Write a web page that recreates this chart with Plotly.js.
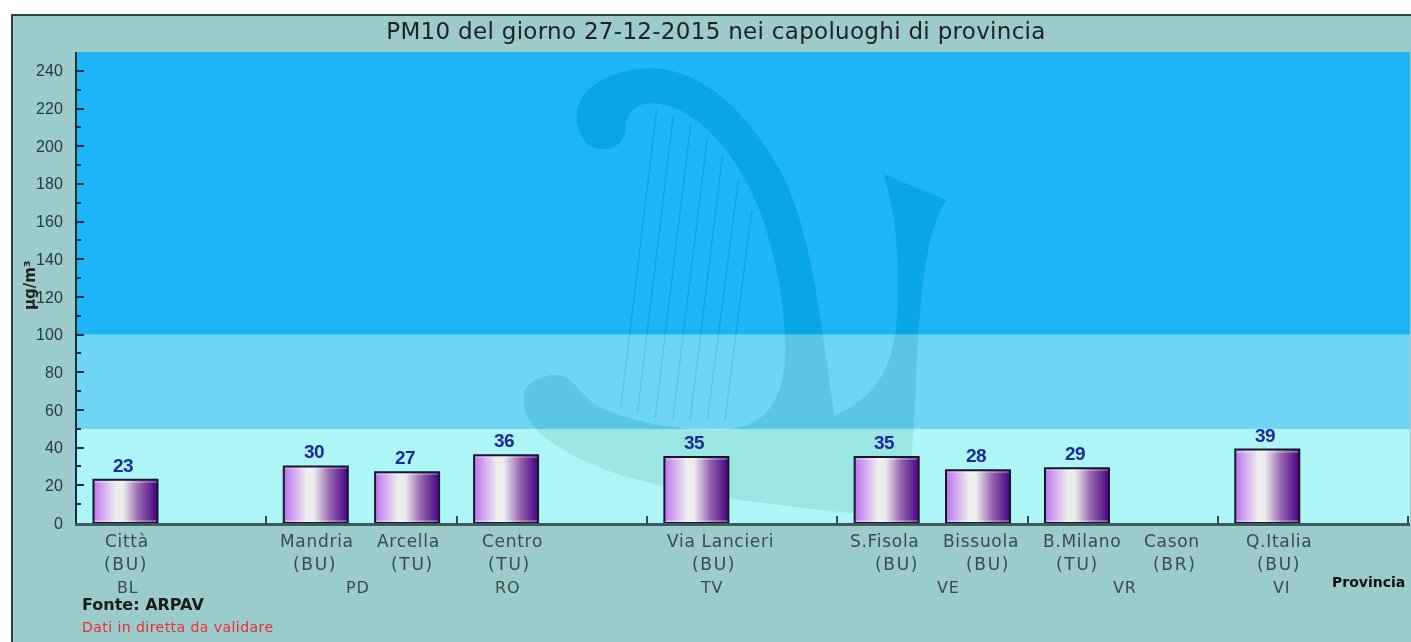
<!DOCTYPE html>
<html><head><meta charset="utf-8">
<script src="https://cdn.plot.ly/plotly-3.0.1.min.js"></script>
<style>html,body{margin:0;padding:0;background:#fff;overflow:hidden}#c{width:1411px;height:642px;filter:blur(0.55px)}.gtitle{letter-spacing:0.3px}</style>
</head><body><div id="c"></div>
<script>
// --- data ---
const stations = ["Città","Mandria","Arcella","Centro","Via Lancieri","S.Fisola","Bissuola","B.Milano","Cason","Q.Italia"];
const stationTypes = ["BU","BU","TU","TU","BU","BU","BU","TU","BR","BU"];
const stationProvince = ["BL","PD","PD","RO","TV","VE","VE","VR","VR","VI"];
const values = [23,30,27,36,35,35,28,29,null,39];
const provinces = ["BL","PD","RO","TV","VE","VR","VI"];
const bandLimits = [0,50,100,250];
const bandColors = ["#AEF5F5","#6FD5F5","#1DB5F5"];
const yTicks = [0,20,40,60,80,100,120,140,160,180,200,220,240];
const yMinorTicks = [10,30,50,70,90,110,130,150,170,190,210,230,250];

// --- geometry ---
const W=1411,H=642,L=77,R=1410,T=52,B=523,X0=76;
const unit=190.3;
const pxX=p=>(p-L)/(R-L), pxY=p=>1-(p-T)/(B-T);
const toAxis=p=>(p-X0)/unit;
const seen={};
const pos=stations.map((s,i)=>{const p=stationProvince[i];const g=provinces.indexOf(p);const sub=seen[p]||0;seen[p]=sub+1;return g+(sub?0.74:0.26);});
const namePx=[126.5,317,408,512,720,884,981,1082,1172,1279];
const typePx=[125.5,315,412,509,714,897,988,1077,1175,1279];
const provincePx=[127.5,358,507,711,948,1125,1281];

// gradient strips of every bar
const barW=64/unit, N=64;
const stops=[[0,[185,115,235]],[0.12,[205,155,240]],[0.36,[238,238,238]],[0.47,[236,236,238]],[0.72,[150,100,175]],[1,[72,2,130]]];
function grad(t){for(let i=1;i<stops.length;i++){if(t<=stops[i][0]){const a=stops[i-1],b=stops[i],f=(t-a[0])/(b[0]-a[0]);
  return 'rgb('+a[1].map((v,k)=>Math.round(v+(b[1][k]-v)*f)).join(',')+')';}}}
const traces=[];
for(let j=0;j<N;j++){
  traces.push({type:'bar',x:pos.map(p=>p-barW/2+(j+0.5)*barW/N),y:values,width:barW/N*1.2,
    marker:{color:grad((j+0.5)/N),line:{width:0}},hoverinfo:'skip',showlegend:false});
}
// soft highlights along the top and bottom edge of every bar
traces.push({type:'bar',x:pos,y:values.map(v=>v===null?null:1.3),base:values.map(v=>v===null?null:v-1.6),width:barW,marker:{color:'rgba(255,255,255,0.28)',line:{width:0}},hoverinfo:'skip',showlegend:false});
traces.push({type:'bar',x:pos,y:values.map(v=>v===null?null:1.4),base:values.map(v=>v===null?null:0),width:barW,marker:{color:'rgba(255,255,255,0.28)',line:{width:0}},hoverinfo:'skip',showlegend:false});
traces.push({type:'bar',x:pos,y:values,width:barW,marker:{color:'rgba(0,0,0,0)',line:{color:'#14182a',width:2}},showlegend:false,
  customdata:stations,hovertemplate:'%{customdata}: %{y}<extra></extra>'});

// watermark (traced in zoom coordinates of a 3x crop)
const zx=v=>pxX(500+v/3), zy=v=>pxY(50+v/3);
function pth(segs){return segs.map(s=>{const c=s[0];const n=s.slice(1);let o=c;for(let i=0;i<n.length;i+=2){o+=(i?' ':'')+zx(n[i]).toFixed(5)+','+zy(n[i+1]).toFixed(5);}return o;}).join(' ')+' Z';}
const harp=pth([['M',230,200],['C',230,110,340,55,450,55],['C',600,55,750,180,860,400],['C',930,560,960,780,1003,1097],
 ['C',1130,1040,1185,950,1192,780],['C',1200,620,1185,480,1150,372],['L',1340,450],['C',1290,520,1270,650,1255,850],
 ['C',1245,1020,1245,1180,1225,1290],['C',1210,1370,1150,1395,1060,1390],['C',800,1365,560,1330,380,1280],
 ['C',220,1230,70,1150,70,1050],['C',70,990,130,975,170,975],['C',220,980,230,1020,280,1060],
 ['C',360,1110,520,1140,650,1140],['C',790,1140,855,1060,855,900],['C',855,720,810,560,770,460],
 ['C',720,340,600,160,450,160],['C',410,160,380,190,378,230],['C',375,280,340,298,305,298],['C',260,298,230,250,230,200]]);
const strings=[[470,180,362,1075],[520,195,412,1092],[572,225,465,1105],[622,265,518,1112],[667,320,570,1115],[715,392,622,1110],[755,482,675,1112]];

const shapes=[
 {type:'rect',xref:'paper',yref:'paper',x0:pxX(12),x1:pxX(1420),y0:pxY(660),y1:pxY(15),fillcolor:'#9CCBCB',line:{color:'#2A4444',width:2},layer:'below'}
];
bandColors.forEach((c,i)=>shapes.push({type:'rect',xref:'paper',yref:'y',x0:0,x1:1,y0:bandLimits[i],y1:bandLimits[i+1],fillcolor:c,line:{width:0},layer:'below'}));
const firstMark=shapes.length;
shapes.push({type:'path',xref:'paper',yref:'paper',path:harp,fillcolor:'rgb(21,15,18)',line:{width:0},layer:'below'});
strings.forEach(s=>shapes.push({type:'line',xref:'paper',yref:'paper',x0:zx(s[0]),y0:zy(s[1]),x1:zx(s[2]),y1:zy(s[3]),line:{color:'rgb(20,15,18)',width:1.5},layer:'below'}));

const XF='"DejaVu Sans",sans-serif';
const sp=(t,s)=>'<span style="letter-spacing:'+s+'px">'+t+'</span>';
const annotations=[];
stations.forEach((s,i)=>{
  annotations.push({xref:'x',yref:'paper',x:toAxis(namePx[i]),y:pxY(541),text:sp(s,0.7),showarrow:false,xanchor:'center',yanchor:'middle',font:{family:XF,size:17,color:'#3C4A4A'}});
  annotations.push({xref:'x',yref:'paper',x:toAxis(typePx[i]),y:pxY(564),text:sp('('+stationTypes[i]+')',1.7),showarrow:false,xanchor:'center',yanchor:'middle',font:{family:XF,size:17,color:'#3C4A4A'}});
  if(values[i]!==null) annotations.push({xref:'x',yref:'y',x:pos[i]-2/unit,y:values[i],yshift:2,text:'<b>'+sp(values[i],-0.6)+'</b>',showarrow:false,xanchor:'center',yanchor:'bottom',font:{family:'"Liberation Sans",sans-serif',size:19,color:'#1E2A9A'}});
});
provinces.forEach((p,i)=>annotations.push({xref:'x',yref:'paper',x:toAxis(provincePx[i]),y:pxY(587),text:sp(p,0.8),showarrow:false,xanchor:'center',yanchor:'middle',font:{family:XF,size:16,color:'#3C4A4A'}}));
annotations.push({xref:'paper',yref:'paper',x:pxX(30),y:pxY(286),xanchor:'center',yanchor:'middle',text:'<b>µg/m³</b>',textangle:-90,showarrow:false,font:{family:XF,size:15,color:'#222'}});
annotations.push({xref:'paper',yref:'paper',x:pxX(80),y:pxY(604),xanchor:'left',yanchor:'middle',text:'<b>Fonte: ARPAV</b>',showarrow:false,font:{family:XF,size:16,color:'#1c1c1c'}});
annotations.push({xref:'paper',yref:'paper',x:pxX(80),y:pxY(627),xanchor:'left',yanchor:'middle',text:sp('Dati in diretta da validare',0.45),showarrow:false,font:{family:XF,size:14,color:'#EE2B36'}});
annotations.push({xref:'paper',yref:'paper',x:pxX(1368),y:pxY(582),xanchor:'center',yanchor:'middle',text:'<b>Provincia</b>',showarrow:false,font:{family:XF,size:14,color:'#111'}});

const layout={
 width:W,height:H,margin:{l:L,r:W-R,t:T,b:H-B,pad:0},
 paper_bgcolor:'#fff',plot_bgcolor:'rgba(0,0,0,0)',
 barmode:'overlay',bargap:0,showlegend:false,
 title:{text:'PM10 del giorno 27-12-2015 nei capoluoghi di provincia',x:716/W,xref:'container',xanchor:'center',y:1-31/H,yanchor:'middle',font:{family:XF,size:23,color:'#222'}},
 xaxis:{range:[toAxis(L),toAxis(R)],tickmode:'array',tickvals:provinces.map((p,i)=>i+1),ticktext:provinces.map(()=>''),
   ticks:'inside',ticklen:7,tickwidth:2,tickcolor:'#3a4a4a',showgrid:false,zeroline:false,showline:true,linecolor:'#3f5a5a',linewidth:3,fixedrange:true},
 yaxis:{range:[bandLimits[0],bandLimits[3]],tickmode:'array',tickvals:yTicks,ticks:'inside',ticklen:7,tickwidth:2,tickcolor:'#0f3040',ticklabelstandoff:9,
   minor:{tickmode:'array',tickvals:yMinorTicks,ticks:'inside',ticklen:4,tickwidth:2,tickcolor:'#0f3040',showgrid:false},
   showgrid:false,zeroline:false,showline:true,linecolor:'#0f3040',linewidth:2,tickfont:{family:'"Liberation Sans",Arial,sans-serif',size:16,color:'#2A3A3A'},fixedrange:true},
 shapes,annotations
};
Plotly.newPlot('c',traces,layout,{displayModeBar:false,staticPlot:true}).then(gd=>{
  // the watermark darkens each band by the same amount
  gd.querySelectorAll('.shapelayer path[data-index]').forEach(p=>{
    if(+p.getAttribute('data-index')>=firstMark) p.style.mixBlendMode='difference';
  });
});
</script></body></html>
